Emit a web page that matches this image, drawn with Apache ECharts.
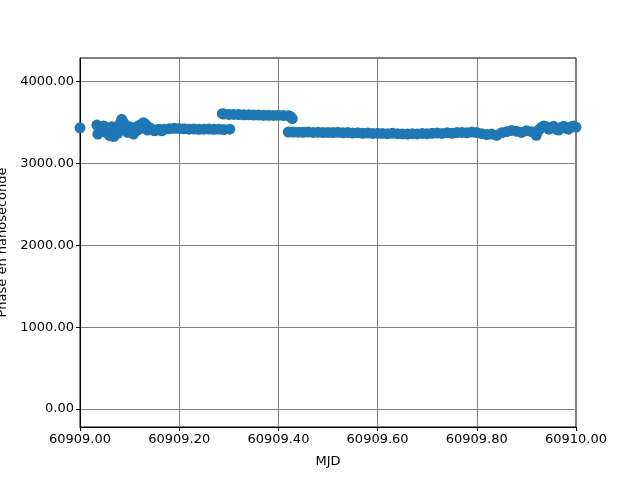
<!DOCTYPE html>
<html>
<head>
<meta charset="utf-8">
<script src="https://cdn.jsdelivr.net/npm/echarts@6/dist/echarts.min.js"></script>
<style>html,body{margin:0;padding:0;background:#fff}#c{width:640px;height:480px}</style>
</head>
<body>
<div id="c"></div>
<script>
// MJD timestamps (days) and phase values (ns)
const mjd = [
  60909.000,
  60909.034,60909.036,60909.040,60909.044,60909.048,60909.052,60909.056,60909.060,60909.064,60909.068,
  60909.072,60909.076,60909.080,60909.084,60909.088,60909.092,60909.096,60909.100,60909.104,60909.108,
  60909.112,60909.116,60909.120,60909.124,60909.128,60909.132,60909.136,60909.140,60909.145,60909.150,
  60909.155,60909.160,60909.165,60909.170,60909.180,60909.190,60909.200,60909.210,60909.220,60909.230,
  60909.240,60909.250,60909.260,60909.270,60909.280,60909.290,60909.302,
  60909.287,60909.290,60909.300,60909.310,60909.320,60909.330,60909.340,60909.350,60909.360,60909.370,
  60909.380,60909.390,60909.400,60909.410,60909.420,60909.424,60909.428,
  60909.420,60909.430,60909.440,60909.450,60909.460,60909.470,60909.480,60909.490,60909.500,60909.510,
  60909.520,60909.530,60909.540,60909.550,60909.560,60909.570,60909.580,60909.590,60909.600,60909.610,
  60909.620,60909.630,60909.640,60909.650,60909.660,60909.670,60909.680,60909.690,60909.700,60909.710,
  60909.720,60909.730,60909.740,60909.750,60909.760,60909.770,60909.780,60909.790,60909.800,60909.810,
  60909.820,60909.830,60909.840,60909.850,60909.860,60909.870,60909.880,60909.890,60909.900,60909.910,
  60909.920,60909.925,60909.930,60909.935,60909.940,60909.945,60909.950,60909.955,60909.960,60909.965,
  60909.970,60909.975,60909.980,60909.985,60909.990,60909.995,60910.000
];
const phase = [
  3437,
  3470,3360,3440,3400,3460,3380,3420,3340,3450,3330,
  3410,3370,3480,3540,3500,3420,3380,3450,3400,3360,
  3440,3410,3470,3430,3500,3480,3410,3440,3420,3400,
  3410,3420,3400,3420,3425,3430,3428,3425,3420,3422,
  3418,3420,3422,3418,3420,3415,3420,
  3610,3605,3600,3600,3598,3595,3595,3592,3592,3590,
  3590,3588,3590,3588,3585,3575,3550,
  3385,3385,3383,3382,3385,3380,3382,3378,3380,3378,
  3382,3375,3378,3372,3375,3370,3372,3368,3370,3368,
  3365,3370,3365,3362,3360,3365,3362,3368,3365,3370,
  3372,3368,3375,3370,3378,3380,3375,3385,3378,3365,
  3355,3360,3345,3375,3390,3405,3395,3380,3400,3390,
  3345,3410,3440,3460,3450,3420,3435,3455,3420,3410,
  3440,3455,3430,3420,3450,3460,3445
];
const yTicks = [0, 1000, 2000, 3000, 4000];

const pts = mjd.map((t, i) => [t, phase[i]]);
const chart = echarts.init(document.getElementById('c'), null, {renderer: 'canvas'});
const font = 'DejaVu Sans';
chart.setOption({
  animation: false,
  backgroundColor: '#ffffff',
  grid: {left: 80, right: 64, top: 58, bottom: 53, containLabel: false, outerBoundsMode: 'none',
         show: true, borderColor: '#000', borderWidth: 1, backgroundColor: 'transparent'},
  xAxis: {
    type: 'value', min: 60909, max: 60910, interval: 0.2,
    name: 'MJD', nameLocation: 'middle', nameGap: 28,
    nameTextStyle: {fontFamily: font, fontSize: 13, color: '#000'},
    axisLine: {show: true, onZero: false, lineStyle: {color: '#000', width: 1}},
    axisTick: {show: true, inside: false, length: 4, lineStyle: {color: '#000'}},
    axisLabel: {fontFamily: font, fontSize: 13, color: '#000', margin: 6, formatter: v => v.toFixed(2)},
    splitLine: {show: true, lineStyle: {color: '#808080', width: 1}}
  },
  yAxis: {
    type: 'value', min: -220, max: 4290,
    name: 'Phase en nanoseconde', nameLocation: 'middle', nameGap: 71,
    nameTextStyle: {fontFamily: font, fontSize: 13, color: '#000'},
    axisLine: {show: true, onZero: false, lineStyle: {color: '#000', width: 1}},
    axisTick: {show: true, inside: false, length: 4, lineStyle: {color: '#000'}, customValues: yTicks},
    axisLabel: {fontFamily: font, fontSize: 13, color: '#000', margin: 6, customValues: yTicks, formatter: v => v.toFixed(2)},
    splitLine: {show: true, lineStyle: {color: '#808080', width: 1}}
  },
  series: [{
    type: 'scatter',
    data: pts,
    symbolSize: 11,
    itemStyle: {color: '#1f77b4', opacity: 1},
    clip: false
  }]
});
</script>
</body>
</html>
